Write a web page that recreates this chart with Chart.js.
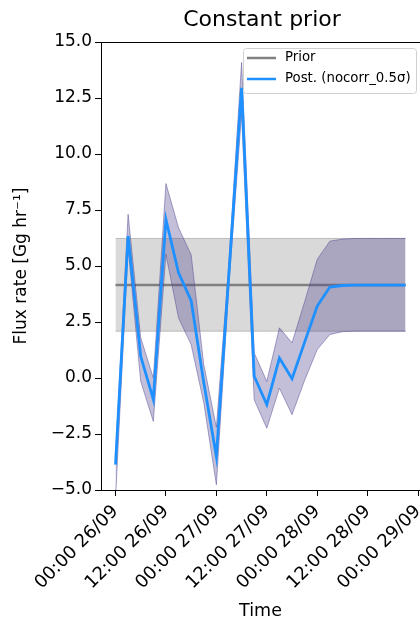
<!DOCTYPE html>
<html>
<head>
<meta charset="utf-8">
<script src="https://cdn.jsdelivr.net/npm/chart.js@4/dist/chart.umd.min.js"></script>
<style>
  html, body { margin: 0; padding: 0; background: #fff; overflow: hidden; }
  canvas { display: block; }
</style>
</head>
<body>
<canvas id="chart" width="420" height="624"></canvas>
<script>
// hours since 00:00 26/09, every 3 h
const hours = [0, 3, 6, 9, 12, 15, 18, 21, 24, 27, 30, 33, 36, 39, 42, 45, 48, 51, 54, 57, 60, 63, 66, 69];
const postMean  = [-3.87, 6.34, 0.97, -0.95, 7.08, 4.70, 3.45, -0.2, -3.50, 4.7, 12.95, 0.08, -1.19, 0.89, -0.03, 1.6, 3.21, 4.06, 4.13, 4.15, 4.15, 4.15, 4.15, 4.15];
const postUpper = [-3.5, 7.31, 1.8, 0.0, 8.68, 6.71, 5.5, 0.6, -2.2, 5.2, 14.09, 1.12, -0.15, 2.24, 1.57, 3.4, 5.3, 6.11, 6.2, 6.23, 6.23, 6.23, 6.23, 6.23];
const postLower = [-5.4, 5.8, -0.15, -1.94, 5.52, 2.68, 1.49, -1.1, -4.77, 4.2, 11.8, -0.97, -2.24, -0.45, -1.64, -0.1, 1.27, 1.94, 2.07, 2.09, 2.09, 2.09, 2.09, 2.09];
const priorMean  = [4.15, 4.15, 4.15, 4.15, 4.15, 4.15, 4.15, 4.15, 4.15, 4.15, 4.15, 4.15, 4.15, 4.15, 4.15, 4.15, 4.15, 4.15, 4.15, 4.15, 4.15, 4.15, 4.15, 4.15];
const priorUpper = [6.23, 6.23, 6.23, 6.23, 6.23, 6.23, 6.23, 6.23, 6.23, 6.23, 6.23, 6.23, 6.23, 6.23, 6.23, 6.23, 6.23, 6.23, 6.23, 6.23, 6.23, 6.23, 6.23, 6.23];
const priorLower = [2.09, 2.09, 2.09, 2.09, 2.09, 2.09, 2.09, 2.09, 2.09, 2.09, 2.09, 2.09, 2.09, 2.09, 2.09, 2.09, 2.09, 2.09, 2.09, 2.09, 2.09, 2.09, 2.09, 2.09];

const xTickHours = [0, 12, 24, 36, 48, 60, 72];
const xTickLabels = ['00:00 26/09', '12:00 26/09', '00:00 27/09', '12:00 27/09', '00:00 28/09', '12:00 28/09', '00:00 29/09'];
const yTicks = [-5, -2.5, 0, 2.5, 5, 7.5, 10, 12.5, 15];

const FONT = "'DejaVu Sans', sans-serif";
const pts = arr => arr.map((v, i) => ({ x: hours[i], y: v }));

// title, legend, top spine
const decor = {
  id: 'decor',
  afterDraw(chart) {
    const { ctx, chartArea: a } = chart;
    ctx.save();
    ctx.strokeStyle = '#000';
    ctx.lineWidth = 1;
    ctx.beginPath();
    ctx.moveTo(a.left, a.top + 0.5);
    ctx.lineTo(a.right, a.top + 0.5);
    ctx.stroke();

    ctx.fillStyle = '#000';
    ctx.font = '22px ' + FONT;
    ctx.textAlign = 'center';
    ctx.textBaseline = 'middle';
    ctx.fillText('Constant prior', 262, 20);

    // legend
    const lx = 243, ly = 48, lw = 173, lh = 45;
    ctx.fillStyle = 'rgba(255,255,255,0.8)';
    ctx.strokeStyle = '#d0d0d0';
    ctx.beginPath();
    ctx.roundRect(lx + 0.5, ly + 0.5, lw, lh, 3);
    ctx.fill();
    ctx.stroke();
    const items = [['Prior', '#808080', 58], ['Post. (nocorr_0.5σ)', '#1e90ff', 79]];
    ctx.font = '13.3px ' + FONT;
    ctx.textAlign = 'left';
    items.forEach(([txt, col, y]) => {
      ctx.strokeStyle = col;
      ctx.lineWidth = 2.5;
      ctx.beginPath();
      ctx.moveTo(247, y);
      ctx.lineTo(276, y);
      ctx.stroke();
      ctx.fillStyle = '#000';
      ctx.fillText(txt, 285, y);
    });
    ctx.restore();
  }
};

new Chart(document.getElementById('chart'), {
  type: 'line',
  data: {
    datasets: [
      { label: 'Post.', data: pts(postMean), borderColor: '#1e90ff', borderWidth: 2.8, fill: false, order: 0 },
      { label: 'postUpper', data: pts(postUpper), borderColor: 'rgba(72,61,139,0.45)', borderWidth: 1,
        backgroundColor: 'rgba(72,61,139,0.33)', fill: '+1', order: 1 },
      { label: 'postLower', data: pts(postLower), borderColor: 'rgba(72,61,139,0.45)', borderWidth: 1, fill: false, order: 1 },
      { label: 'Prior', data: pts(priorMean), borderColor: '#808080', borderWidth: 2.5, fill: false, order: 2 },
      { label: 'priorUpper', data: pts(priorUpper), borderColor: 'rgba(128,128,128,0.45)', borderWidth: 1,
        backgroundColor: 'rgba(128,128,128,0.3)', fill: '+1', order: 3 },
      { label: 'priorLower', data: pts(priorLower), borderColor: 'rgba(128,128,128,0.45)', borderWidth: 1, fill: false, order: 3 }
    ]
  },
  options: {
    responsive: false,
    animation: false,
    layout: { padding: { top: 42, left: 0, right: 0, bottom: 0 } },
    elements: { point: { radius: 0 }, line: { tension: 0 } },
    plugins: { legend: { display: false }, tooltip: { enabled: false }, title: { display: false } },
    scales: {
      x: {
        type: 'linear',
        min: -3.45,
        max: 72.45,
        afterBuildTicks: s => { s.ticks = xTickHours.map(v => ({ value: v })); },
        afterFit: s => { s.height = 134; s.paddingRight = 0; s.paddingLeft = 0; },
        grid: { drawOnChartArea: false, drawTicks: true, tickLength: 6, color: '#000' },
        border: { display: true, color: '#000', width: 1 },
        ticks: {
          minRotation: 45, maxRotation: 45, autoSkip: false,
          color: '#000', font: { family: FONT, size: 18 }, padding: 5,
          callback: v => xTickLabels[xTickHours.indexOf(v)]
        },
        title: { display: true, text: 'Time', color: '#000', font: { family: FONT, size: 17.5 }, padding: { top: 0, bottom: 2 } }
      },
      y: {
        min: -5,
        max: 15,
        afterBuildTicks: s => { s.ticks = yTicks.map(v => ({ value: v })); },
        afterFit: s => { s.width = 101; s.paddingTop = 0; s.paddingBottom = 0; },
        grid: { drawOnChartArea: false, drawTicks: true, tickLength: 6, color: '#000' },
        border: { display: true, color: '#000', width: 1 },
        ticks: {
          color: '#000', font: { family: FONT, size: 17 }, padding: 3,
          callback: v => v.toFixed(1).replace('-', '\u2212')
        },
        title: { display: true, text: 'Flux rate [Gg hr\u207B\u00B9]', color: '#000', font: { family: FONT, size: 17 }, padding: { top: 11, bottom: 0 } }
      }
    }
  },
  plugins: [decor]
});
</script>
</body>
</html>
